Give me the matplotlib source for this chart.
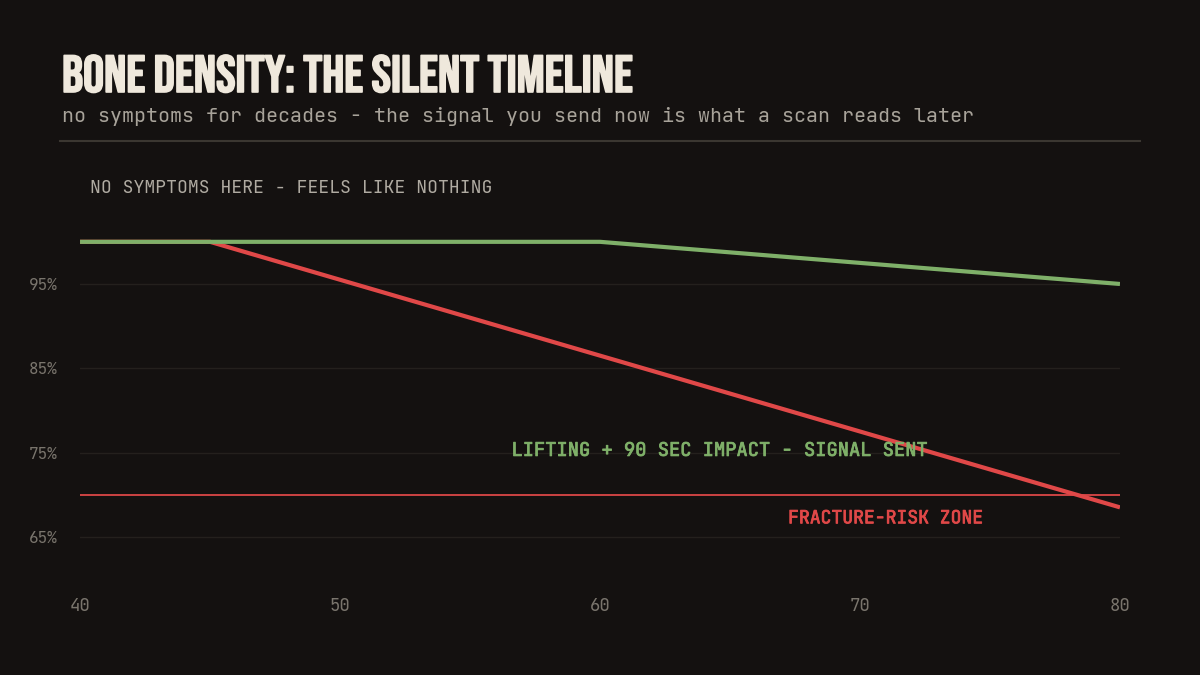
import matplotlib
matplotlib.use("Agg")
import matplotlib.pyplot as plt
import matplotlib.patheffects as pe

# ages and bone density (% of peak)
ages = [40, 45, 50, 55, 60, 65, 70, 75, 80]
no_signal = [100, 100, 95.5, 91, 86.5, 82, 77.5, 73, 68.5]
with_signal = [100, 100, 100, 100, 100, 98.75, 97.5, 96.25, 95]
risk_level = 70
y_ticks = [65, 75, 85, 95]
x_ticks = [40, 50, 60, 70, 80]

BG = "#141110"
CREAM = "#efe8dc"
GREEN = "#7fb069"
RED = "#e04848"
MONO = ["JetBrains Mono", "DejaVu Sans Mono"]

fig = plt.figure(figsize=(12, 6.75), dpi=100, facecolor=BG)
ax = fig.add_axes([0.0667, 0.1422, 0.8666, 0.5495])
ax.set_facecolor(BG)

ax.plot(ages, no_signal, color=RED, lw=3, solid_capstyle="butt", zorder=3)
ax.plot(ages, with_signal, color=GREEN, lw=3, solid_capstyle="butt", zorder=4)
ax.axhline(risk_level, color=RED, lw=1.4, alpha=0.9, zorder=2)

ax.set_xlim(40, 80)
ax.set_ylim(60, 104)
ax.set_xticks(x_ticks)
ax.set_yticks(y_ticks)
ax.set_yticklabels([f"{t}%" for t in y_ticks])
ax.grid(axis="y", color="#24201d", lw=1)
ax.set_axisbelow(True)
for s in ax.spines.values():
    s.set_visible(False)
ax.tick_params(length=0, colors="#7a756d")
ax.tick_params(axis="x", pad=13.5, labelsize=12.5)
ax.tick_params(axis="y", pad=16, labelsize=11.5)
for lab in ax.get_xticklabels() + ax.get_yticklabels():
    lab.set_family(MONO)

ax.text(40.4, 106.4, "NO SYMPTOMS HERE - FEELS LIKE NOTHING", color="#b0aba2",
        fontsize=13, family=MONO, va="center", ha="left", clip_on=False)
ax.text(64.6, 75.2, "LIFTING + 90 SEC IMPACT - SIGNAL SENT", color=GREEN,
        fontsize=13.5, family=MONO, fontweight="bold", va="center", ha="center",
        path_effects=[pe.withStroke(linewidth=0.6, foreground=GREEN)])
ax.text(71.0, 67.2, "FRACTURE-RISK ZONE", color=RED, fontsize=13, family=MONO,
        fontweight="bold", va="center", ha="center",
        path_effects=[pe.withStroke(linewidth=0.6, foreground=RED)])

fig.text(0.0517, 1 - 92 / 675, "BONE DENSITY: THE SILENT TIMELINE", color=CREAM,
         fontsize=37.6, family=["Bebas Neue", "DejaVu Sans"], va="baseline", ha="left",
         path_effects=[pe.withStroke(linewidth=1.2, foreground=CREAM)])
fig.text(0.0517, 1 - 116 / 675,
         "no symptoms for decades - the signal you send now is what a scan reads later",
         color="#a8a39a", fontsize=14.35, family=MONO, va="center", ha="left")
fig.add_artist(plt.Line2D([0.05, 0.95], [1 - 141 / 675] * 2, color="#3b3731", lw=1.5))

fig.savefig("out.png", facecolor=BG)
